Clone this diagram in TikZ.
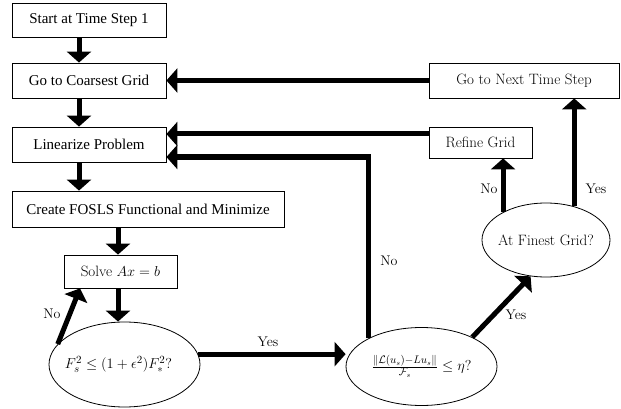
\documentclass[tikz,border=0pt]{standalone}
\usepackage{graphicx}
\usepackage{fontspec}
\newfontfamily\timesf{Liberation Serif}
\usetikzlibrary{arrows.meta,shapes.geometric}
\begin{document}
\begin{tikzpicture}[x=1pt,y=-1pt,
  box/.style={draw, line width=0.8pt, rectangle, inner sep=0pt, font=\fontsize{15}{18}\selectfont},
  tbox/.style={box, font=\timesf\fontsize{15}{18}\selectfont},
  ell/.style={draw, ellipse, line width=0.8pt, inner sep=0pt, font=\fontsize{15}{18}\selectfont},
  arr/.style={line width=5pt, -{Triangle[width=24pt,length=11pt]}},
  lab/.style={font=\fontsize{14}{17}\selectfont, inner sep=0pt}]
\useasboundingbox (0,0) rectangle (621,409);
% boxes
\node[tbox, minimum width=154pt, minimum height=34pt] (start) at (89,20) {Start at Time Step 1};
\node[tbox, minimum width=154pt, minimum height=35pt] (coarse) at (89,80.5) {Go to Coarsest Grid};
\node[tbox, minimum width=154pt, minimum height=35pt] (lin) at (89,144.5) {Linearize Problem};
\node[tbox, minimum width=272pt, minimum height=36pt] (create) at (148,209) {Create FOSLS Functional and Minimize};
\node[box, minimum width=113pt, minimum height=33pt] (solve) at (120.5,271.5) {Solve $Ax=b$};
\node[box, minimum width=190pt, minimum height=35pt] (next) at (524,80.5) {Go to Next Time Step};
\node[box, minimum width=103pt, minimum height=31pt] (refine) at (480.5,142.5) {Refine Grid};
% ellipses
\node[ell, minimum width=151pt, minimum height=85pt] (e1) at (124.5,364.5) {\makebox[0pt]{$F_s^2\le(1+\epsilon^2)F_*^2?$\hspace{12pt}}};
\node[ell, minimum width=151pt, minimum height=78pt] (e2) at (421.5,366.5) {\makebox[0pt]{$\frac{\|\mathcal{L}(u_s)-Lu_s\|}{\mathcal{F}_s}\le\eta?$}};
\node[ell, minimum width=128pt, minimum height=74pt] (e3) at (546,240) {\makebox[0pt]{At Finest Grid?}};
% connectors
\draw[arr] ([xshift=-10pt]start.south) -- ([xshift=-10pt]coarse.north);
\draw[arr] ([xshift=-10pt]coarse.south) -- ([xshift=-10pt]lin.north);
\draw[arr] ([xshift=-10pt]lin.south) -- ([xshift=-10pt]lin.south |- create.north);
\draw[arr] ([xshift=-2.5pt]solve.north |- create.south) -- ([xshift=-2.5pt]solve.north);
\draw[arr] ([xshift=-2.5pt]solve.south) -- ([xshift=-2.5pt]solve.south |- e1.north);
\draw[arr] (e1.163) -- ([xshift=-40.5pt]solve.south);
\draw[arr] (e1.8) -- (e1.8 -| e2.west);
\draw[arr] (e2.152) |- ([yshift=-12.5pt]lin.east);
\draw[arr] (e2.30) -- (e3.247);
\draw[arr] (e3.147.5) -- (e3.147.5 |- refine.south);
\draw[arr] (e3.50) -- (e3.50 |- next.south);
\draw[arr] ([yshift=8.5pt]refine.west) -- ([yshift=8.5pt]refine.west -| lin.east);
\draw[arr] (next.west) -- (next.west -| coarse.east);
% labels
\node[lab] (l1) at (52,314) {No};
\node[lab] (l2) at (268,342) {Yes};
\node[lab] (l3) at (389,261) {No};
\node[lab] (l4) at (516,315) {Yes};
\node[lab] (l5) at (489,189) {No};
\node[lab] (l6) at (596,189) {Yes};
\end{tikzpicture}
\end{document}
